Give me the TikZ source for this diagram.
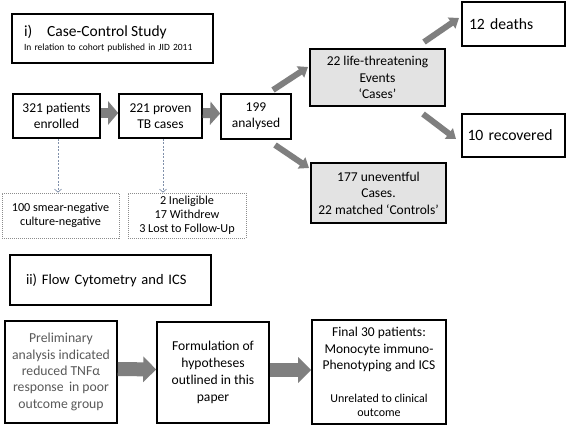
\documentclass[tikz,border=0pt]{standalone}
\usepackage{fontspec}
\setmainfont{Carlito}
\usetikzlibrary{arrows.meta,calc}
\definecolor{arrowgray}{HTML}{7F7F7F}
\definecolor{boxgray}{HTML}{E3E3E3}
\definecolor{dashblue}{HTML}{8090AA}
\definecolor{dotgray}{HTML}{8C8C8C}
\definecolor{textgray}{HTML}{595959}
\begin{document}
\begin{tikzpicture}[x=1pt,y=-1pt,
 box/.style={draw=black,line width=1.6pt,inner sep=0pt,align=center,font=\fontsize{13.5}{16}\selectfont},
 graybox/.style={box,fill=boxgray},
 dotbox/.style={draw=dotgray,line width=0.8pt,dash pattern=on 1pt off 1pt,inner sep=0pt,align=center,font=\fontsize{12.2}{14.2}\selectfont},
 fatarrow/.style={draw=arrowgray,line width=10pt,-{Triangle[length=10pt,width=23pt]}},
 fatarrowb/.style={draw=arrowgray,line width=14pt,-{Triangle[length=13pt,width=25pt]}},
 diagarrow/.style={draw=arrowgray,line width=6pt,-{Triangle[length=9pt,width=13pt]}},
 dashline/.style={draw=dashblue,line width=0.7pt,dash pattern=on 2pt off 1.5pt,-{Straight Barb[length=3pt,width=7pt]}},
]
\useasboundingbox[fill=white] (0,0) rectangle (567,427);

% section i
\node[box,minimum width=201pt,minimum height=49pt,text width=177pt,align=left,
      font=\fontsize{9.5}{14}\selectfont] (t1) at (112.5,38.5)
  {{\fontsize{15.5}{14}\selectfont i)\hspace{15pt}Case-Control Study}\\In relation to cohort published in JID 2011};

\node[box,minimum width=87pt,minimum height=44pt] (n321) at (56.5,116) {321 patients\\enrolled};
\node[box,minimum width=83pt,minimum height=44pt] (n221) at (160.5,116) {221 proven\\TB cases};
\node[box,minimum width=70pt,minimum height=45pt] (n199) at (256,116.5) {199\\analysed};

\node[graybox,minimum width=135pt,minimum height=57pt,font=\fontsize{13.5}{16.5}\selectfont] (cases) at (377.5,77.5)
  {22 life-threatening\\Events\\‘Cases’};
\node[graybox,minimum width=135pt,minimum height=60pt,font=\fontsize{13.5}{16.5}\selectfont] (controls) at (378.5,193)
  {177 uneventful\\Cases.\\22 matched ‘Controls’};

\node[box,minimum width=103pt,minimum height=44pt,text width=89pt,align=left,font=\fontsize{15.7}{18}\selectfont] (deaths) at (513.5,24) {12 deaths};
\node[box,minimum width=103pt,minimum height=43pt,text width=92pt,align=left,font=\fontsize{15.7}{18}\selectfont] (recov) at (513.5,135.5) {10 recovered};

\node[dotbox,minimum width=117pt,minimum height=45pt] (smear) at (60.5,215.5) {100 smear-negative\\culture-negative};
\node[dotbox,minimum width=118pt,minimum height=45pt,font=\fontsize{12.2}{14}\selectfont] (excl) at (187,215.5) {2 Ineligible\\17 Withdrew\\3 Lost to Follow-Up};

% connectors section i
\draw[fatarrow] ([yshift=3pt]n321.east) -- ([yshift=3pt]n221.west);
\draw[fatarrow] ([yshift=3pt]n221.east) -- ([yshift=3pt]n199.west);

\draw[dashline] ([xshift=1.5pt]n321.south) -- ([xshift=1.5pt]n321.south |- smear.north);
\draw[dashline] ([xshift=2.5pt]n221.south) -- ([xshift=2.5pt]n221.south |- excl.north);

\coordinate (a1s) at (273,90);  \coordinate (a1e) at (308,67);
\coordinate (a2s) at (275,145); \coordinate (a2e) at (309,168);
\coordinate (a3s) at (424,42);  \coordinate (a3e) at (459,18);
\coordinate (a4s) at (423,114); \coordinate (a4e) at (456,139);
\draw[diagarrow] (a1s) -- (a1e);
\draw[diagarrow] (a2s) -- (a2e);
\draw[diagarrow] (a3s) -- (a3e);
\draw[diagarrow] (a4s) -- (a4e);

% section ii
\node[box,minimum width=201pt,minimum height=50pt,text width=169pt,align=left,font=\fontsize{14.5}{17}\selectfont] (t2) at (110.5,280)
  {ii) Flow Cytometry and ICS};

\node[box,minimum width=112pt,minimum height=102pt,text=textgray,font=\fontsize{13.7}{16.3}\selectfont] (prelim) at (61,372)
  {Preliminary\\analysis indicated\\reduced TNFα\\response\, in poor\\outcome group};
\node[box,minimum width=112pt,minimum height=101pt,font=\fontsize{13.6}{17}\selectfont] (formul) at (213,372.5)
  {Formulation of\\hypotheses\\outlined in this\\paper};
\node[box,minimum width=134pt,minimum height=104pt,font=\fontsize{13.5}{16.5}\selectfont] (final) at (379,372)
  {Final 30 patients:\\Monocyte immuno-\\Phenotyping and ICS\\[16pt]{\fontsize{12}{14}\selectfont Unrelated to clinical}\\[-2.5pt]{\fontsize{12}{14}\selectfont outcome}};

\draw[fatarrowb] ([yshift=3pt]prelim.east) -- ([yshift=3pt]formul.west);
\draw[fatarrowb] ([yshift=2.5pt]formul.east) -- ([yshift=2pt]final.west);
\end{tikzpicture}
\end{document}
